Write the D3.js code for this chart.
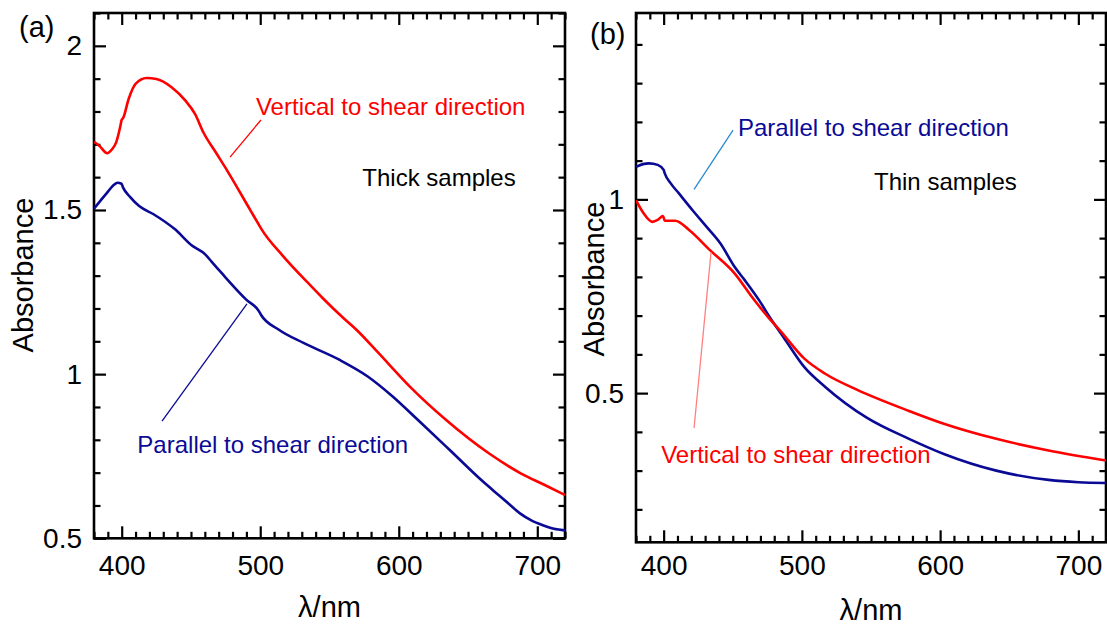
<!DOCTYPE html>
<html>
<head>
<meta charset="utf-8">
<script src="https://cdn.jsdelivr.net/npm/d3@7/dist/d3.min.js"></script>
<style>
  body { margin: 0; background: #fff; }
  text { font-family: "Liberation Sans", Arial, sans-serif; }
</style>
</head>
<body>
<div id="chart"></div>
<script>
// Thick samples (a)
var thickVertWl = [380, 384, 389.5, 393, 396, 399, 400, 401, 405, 410, 418, 425, 436, 446, 453, 459, 468, 477, 492.5, 500, 501, 516, 534, 545, 560, 570, 585, 608, 634, 665, 688, 705, 720]
var thickVertAbs = [1.708, 1.695, 1.673, 1.685, 1.706, 1.755, 1.775, 1.78, 1.838, 1.884, 1.902, 1.899, 1.874, 1.833, 1.792, 1.736, 1.675, 1.614, 1.502, 1.448, 1.441, 1.362, 1.280, 1.232, 1.171, 1.133, 1.066, 0.962, 0.861, 0.759, 0.698, 0.663, 0.632]
var thickParWl = [380, 385, 389.5, 394, 397, 399.8, 401, 406, 412.6, 423, 438.5, 451.3, 456, 459, 465, 471.9, 489.9, 499, 500.5, 513.2, 531.2, 557, 577.6, 595.6, 613.7, 636.8, 661, 672, 680, 687.5, 696, 704, 712, 720]
var thickParAbs = [1.504, 1.53, 1.553, 1.575, 1.583, 1.580, 1.568, 1.540, 1.512, 1.487, 1.441, 1.390, 1.378, 1.370, 1.342, 1.309, 1.227, 1.192, 1.181, 1.136, 1.095, 1.044, 0.993, 0.932, 0.861, 0.769, 0.672, 0.632, 0.603, 0.576, 0.554, 0.540, 0.529, 0.524]

// Thin samples (b)
var thinParWl = [380, 385, 389.4, 395.7, 400, 400.8, 405, 410.9, 420.9, 431.1, 441.1, 451.3, 458.8, 469, 476.5, 486.6, 501.8, 516.9, 547.2, 577.5, 602.7, 640.6, 678.5, 700, 720]
var thinParAbs = [1.084, 1.091, 1.093, 1.089, 1.076, 1.067, 1.042, 1.016, 0.972, 0.929, 0.886, 0.826, 0.791, 0.740, 0.697, 0.645, 0.567, 0.516, 0.436, 0.382, 0.343, 0.300, 0.276, 0.270, 0.268]
var thinVertWl = [380, 385.5, 391.8, 395.7, 399.5, 400.8, 408.4, 418.4, 433.5, 451.3, 463.9, 476.5, 484.1, 501.8, 516.9, 539.7, 577.5, 602.7, 640.6, 678.5, 720]
var thinVertAbs = [0.998, 0.964, 0.942, 0.947, 0.957, 0.945, 0.945, 0.921, 0.869, 0.809, 0.748, 0.692, 0.662, 0.589, 0.550, 0.509, 0.454, 0.421, 0.382, 0.352, 0.326]

// ticks
var xMajorTicks = [400, 500, 600, 700]
var xMinorTicks = d3.range(380, 721, 10)
var yMajorTicksA = [0.5, 1, 1.5, 2]
var yMinorTicksA = d3.range(5, 22).map(function(d) { return d / 10 })
var yMajorTicksB = [0.5, 1]
var yMinorTicksB = d3.range(2, 15).map(function(d) { return d / 10 })

var red = '#ff0000'
var navy = '#0a0a96'

var W = 1107, H = 625;
var majorLen = 12, minorLen = 6.5;

var svg = d3.select('#chart')
  .append('svg')
  .attr('width', W)
  .attr('height', H)
  .style('background', '#fff');

function zip(xs, ys) {
  return xs.map(function(d, i) { return {x: d, y: ys[i]} })
}

var panels = [
  {
    id: 'a', left: 94, right: 565, top: 13, bottom: 538.3,
    yDomain: [0.5, 2.1], yMajor: yMajorTicksA, yMinor: yMinorTicksA, xPad: 17,
    tag: '(a)', tagX: 19, tagY: 37,
    yTitleX: 33, yTitleY: 275, xTitleY: 617,
    series: [
      {data: zip(thickVertWl, thickVertAbs), color: red},
      {data: zip(thickParWl, thickParAbs), color: navy}
    ],
    notes: [
      {text: 'Vertical to shear direction', x: 496.9, y: 1.789, color: red},
      {text: 'Thick samples', x: 573.7, y: 1.573, color: '#000'},
      {text: 'Parallel to shear direction', x: 411.3, y: 0.760, color: navy}
    ],
    leaders: [
      {x1: 500.5, y1: 1.774, x2: 478.2, y2: 1.661, color: red},
      {x1: 490.4, y1: 1.214, x2: 429.1, y2: 0.857, color: navy}
    ]
  },
  {
    id: 'b', left: 636, right: 1106, top: 13, bottom: 542.3,
    yDomain: [0.115, 1.481], yMajor: yMajorTicksB, yMinor: yMinorTicksB, xPad: 13,
    tag: '(b)', tagX: 590, tagY: 44,
    yTitleX: 604, yTitleY: 279, xTitleY: 620,
    series: [
      {data: zip(thinParWl, thinParAbs), color: navy},
      {data: zip(thinVertWl, thinVertAbs), color: red}
    ],
    notes: [
      {text: 'Parallel to shear direction', x: 453.8, y: 1.163, color: navy},
      {text: 'Thin samples', x: 552.2, y: 1.024, color: '#000'},
      {text: 'Vertical to shear direction', x: 398.2, y: 0.319, color: red}
    ],
    leaders: [
      {x1: 450.2, y1: 1.179, x2: 422, y2: 1.026, color: '#2a8ccf'},
      {x1: 434.3, y1: 0.864, x2: 422, y2: 0.410, color: '#ff8080'}
    ]
  }
]

panels.forEach(drawPanel)

function styleAxis(g) {
  g.select('.domain').remove();
  g.attr('font-size', 28)
    .attr('font-family', '"Liberation Sans", Arial, sans-serif');
  g.selectAll('.tick line').attr('stroke', '#000').attr('stroke-width', 2.2);
  g.selectAll('.tick text').attr('fill', '#000');
}

function drawPanel(p) {
  var x = d3.scaleLinear().domain([380, 720]).range([p.left, p.right]);
  var y = d3.scaleLinear().domain(p.yDomain).range([p.bottom, p.top]);
  var g = svg.append('g').attr('id', 'panel-' + p.id);

  var minorX = xMinorTicks.filter(function(d) { return xMajorTicks.indexOf(d) < 0 })
  var minorY = p.yMinor.filter(function(d) { return p.yMajor.indexOf(d) < 0 })

  // bottom
  g.append('g').attr('transform', 'translate(0,' + p.bottom + ')')
    .call(d3.axisBottom(x).tickValues(minorX).tickSize(-minorLen).tickFormat(''))
    .call(styleAxis);
  g.append('g').attr('transform', 'translate(0,' + p.bottom + ')')
    .call(d3.axisBottom(x).tickValues(xMajorTicks).tickSize(-majorLen).tickPadding(p.xPad).tickFormat(d3.format('d')))
    .call(styleAxis);
  // top
  g.append('g').attr('transform', 'translate(0,' + p.top + ')')
    .call(d3.axisTop(x).tickValues(minorX).tickSize(-minorLen).tickFormat(''))
    .call(styleAxis);
  g.append('g').attr('transform', 'translate(0,' + p.top + ')')
    .call(d3.axisTop(x).tickValues(xMajorTicks).tickSize(-majorLen).tickFormat(''))
    .call(styleAxis);
  // left
  g.append('g').attr('transform', 'translate(' + p.left + ',0)')
    .call(d3.axisLeft(y).tickValues(minorY).tickSize(-minorLen).tickFormat(''))
    .call(styleAxis);
  g.append('g').attr('transform', 'translate(' + p.left + ',0)')
    .call(d3.axisLeft(y).tickValues(p.yMajor).tickSize(-majorLen).tickPadding(12).tickFormat(function(d) { return String(d) }))
    .call(styleAxis);
  // right
  g.append('g').attr('transform', 'translate(' + p.right + ',0)')
    .call(d3.axisRight(y).tickValues(minorY).tickSize(-minorLen).tickFormat(''))
    .call(styleAxis);
  g.append('g').attr('transform', 'translate(' + p.right + ',0)')
    .call(d3.axisRight(y).tickValues(p.yMajor).tickSize(-majorLen).tickFormat(''))
    .call(styleAxis);

  // frame
  g.append('rect')
    .attr('x', p.left).attr('y', p.top)
    .attr('width', p.right - p.left).attr('height', p.bottom - p.top)
    .attr('fill', 'none').attr('stroke', '#000').attr('stroke-width', 2.6);

  g.append('clipPath').attr('id', 'clip-' + p.id)
    .append('rect')
    .attr('x', p.left).attr('y', p.top)
    .attr('width', p.right - p.left).attr('height', p.bottom - p.top);

  var line = d3.line()
    .x(function(d) { return x(d.x) })
    .y(function(d) { return y(d.y) })
    .curve(d3.curveMonotoneX);

  p.series.forEach(function(s) {
    g.append('path')
      .datum(s.data)
      .attr('clip-path', 'url(#clip-' + p.id + ')')
      .attr('d', line)
      .attr('fill', 'none')
      .attr('stroke', s.color)
      .attr('stroke-width', 2.6)
      .attr('stroke-linejoin', 'round');
  });

  // leader lines
  g.selectAll('.leader')
    .data(p.leaders).enter()
    .append('line')
    .attr('class', 'leader')
    .attr('x1', function(d) { return x(d.x1) })
    .attr('y1', function(d) { return y(d.y1) })
    .attr('x2', function(d) { return x(d.x2) })
    .attr('y2', function(d) { return y(d.y2) })
    .attr('stroke', function(d) { return d.color })
    .attr('stroke-width', 1.3);

  g.selectAll('.note')
    .data(p.notes).enter()
    .append('text')
    .attr('class', 'note')
    .attr('x', function(d) { return x(d.x) })
    .attr('y', function(d) { return y(d.y) })
    .attr('fill', function(d) { return d.color })
    .attr('font-size', 24)
    .text(function(d) { return d.text });

  // titles
  g.append('text')
    .attr('x', p.tagX).attr('y', p.tagY)
    .attr('font-size', 29)
    .text(p.tag);

  g.append('text')
    .attr('transform', 'translate(' + p.yTitleX + ',' + p.yTitleY + ') rotate(-90)')
    .attr('text-anchor', 'middle')
    .attr('font-size', 29)
    .text('Absorbance');

  g.append('text')
    .attr('x', (p.left + p.right) / 2).attr('y', p.xTitleY)
    .attr('text-anchor', 'middle')
    .attr('font-size', 29)
    .text('\u03bb/nm');
}
</script>
</body>
</html>
